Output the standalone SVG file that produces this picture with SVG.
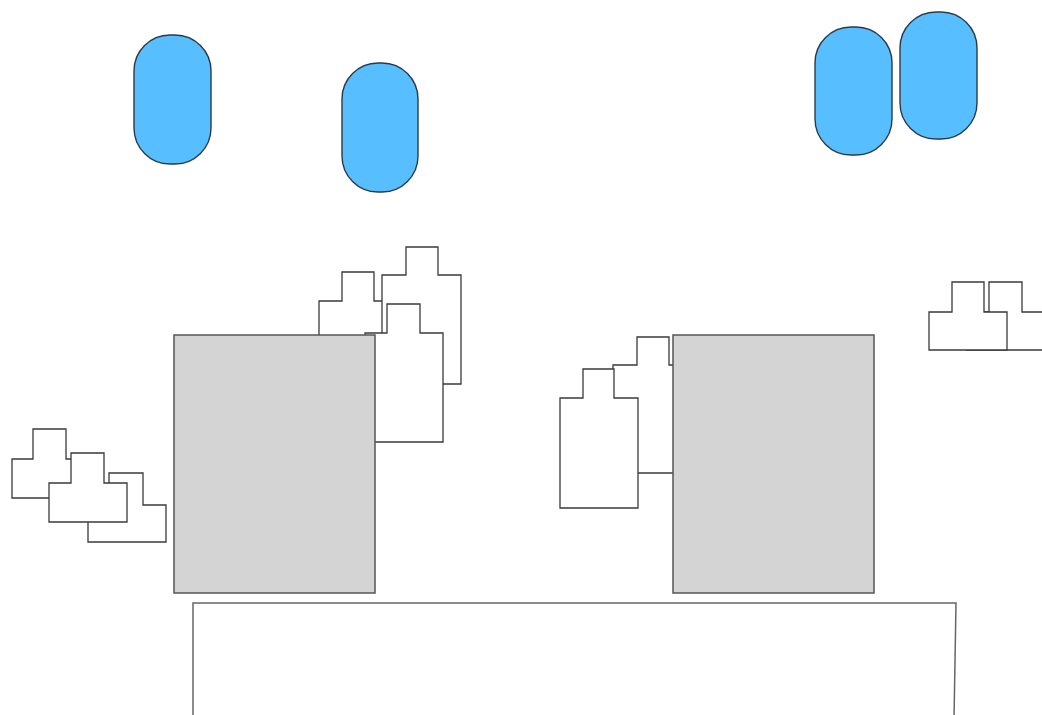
<svg xmlns="http://www.w3.org/2000/svg" width="1042" height="715" viewBox="0 0 1042 715">
<style>
.pill{fill:#57bfff;stroke:#2b3a48;stroke-width:1.4}
.tbl{fill:#d4d4d4;stroke:#555;stroke-width:1.5}
.seat{fill:#fff;stroke:#3a3a3a;stroke-width:1.3}
.floor{fill:#fff;stroke:#666;stroke-width:1.5}
</style>
<rect width="1042" height="715" fill="#fff"/>
<g id="pills">
<rect id="pill1" class="pill" x="134" y="35" width="77" height="129" rx="36"/>
<rect id="pill2" class="pill" x="342" y="63" width="76" height="129" rx="36"/>
<rect id="pill3" class="pill" x="815" y="27" width="77" height="128" rx="36"/>
<rect id="pill4" class="pill" x="900" y="12" width="77" height="127" rx="36"/>
</g>
<g id="floor">
<path class="floor" d="M193,720 L193,603 L956,603 L954,720"/>
</g>
<g id="left-cluster">
<path id="A" class="seat" d="M12,459 H33 V429 H66 V459 H90 V498 H12 Z"/>
<path id="C" class="seat" d="M88,505 H109 V473 H143 V505 H166 V542 H88 Z"/>
<path id="B" class="seat" d="M49,483 H71 V453 H104 V483 H127 V522 H49 Z"/>
</g>
<g id="mid-cluster">
<path id="D" class="seat" d="M319,301 H342 V272 H374 V301 H397 V340 H319 Z"/>
<path id="E" class="seat" d="M382,275 H406 V247 H438 V275 H461 V384 H382 Z"/>
<path id="F" class="seat" d="M365,333 H387 V304 H420 V333 H443 V442 H365 Z"/>
</g>
<g id="right-mid-cluster">
<path id="H" class="seat" d="M613,365 H637 V337 H669 V365 H691 V473 H613 Z"/>
<path id="G" class="seat" d="M560,398 H583 V369 H614 V398 H638 V508 H560 Z"/>
</g>
<g id="tables">
<rect id="table-left" class="tbl" x="174" y="335" width="201" height="258"/>
<rect id="table-right" class="tbl" x="673" y="335" width="201" height="258"/>
</g>
<g id="right-cluster">
<path id="J" class="seat" d="M967,312 H989 V282 H1022 V312 H1045 V350 H967 Z"/>
<path id="I" class="seat" d="M929,312 H952 V282 H984 V312 H1007 V350 H929 Z"/>
</g>
<g id="connectors"/>
</svg>
